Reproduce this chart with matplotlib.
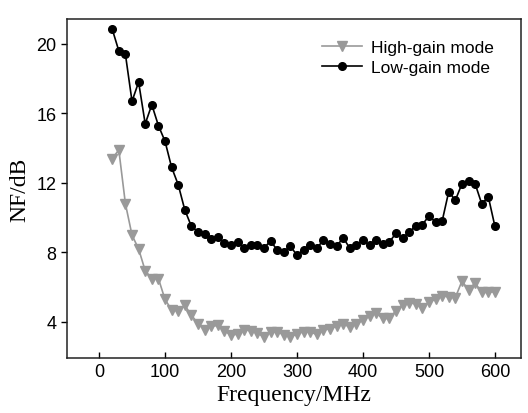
import matplotlib
matplotlib.use("Agg")
import matplotlib.pyplot as plt

# fréquences (MHz)
freq = list(range(20, 601, 10))

# mode gain élevé
high_gain = [13.4, 13.9, 10.8, 9.0, 8.2, 6.95, 6.5, 6.5, 5.3, 4.7,
             4.65, 4.95, 4.4, 3.9, 3.55, 3.75, 3.8, 3.5, 3.25, 3.3,
             3.55, 3.5, 3.35, 3.15, 3.4, 3.45, 3.25, 3.15, 3.3, 3.45,
             3.4, 3.3, 3.55, 3.6, 3.75, 3.9, 3.7, 3.9, 4.1, 4.35,
             4.5, 4.2, 4.2, 4.65, 5.0, 5.1, 5.05, 4.8, 5.15, 5.3,
             5.5, 5.45, 5.4, 6.35, 5.85, 6.25, 5.7, 5.7, 5.75]

# mode gain faible
low_gain = [20.85, 19.6, 19.4, 16.7, 17.8, 15.4, 16.5, 15.3, 14.4, 12.9,
            11.9, 10.45, 9.5, 9.2, 9.05, 8.8, 8.9, 8.55, 8.45, 8.6,
            8.25, 8.4, 8.4, 8.27, 8.65, 8.15, 8.05, 8.35, 7.85, 8.15,
            8.42, 8.25, 8.7, 8.5, 8.35, 8.85, 8.25, 8.42, 8.7, 8.42,
            8.7, 8.5, 8.6, 9.1, 8.85, 9.15, 9.55, 9.6, 10.1, 9.75,
            9.8, 11.5, 11.0, 11.95, 12.1, 11.95, 10.8, 11.2, 9.5]

plt.rcParams["font.family"] = ["Liberation Sans", "DejaVu Sans"]

fig = plt.figure(figsize=(5.28, 4.14), dpi=100)
ax = fig.add_axes([0.1263, 0.133, 0.8598, 0.819])

ax.plot(freq, high_gain, color="#999999", marker="v", markersize=6.5,
        linewidth=1.2, label="High-gain mode")
ax.plot(freq, low_gain, color="black", marker="o", markersize=5.5,
        linewidth=1.2, label="Low-gain mode")

ax.set_xlim(-49, 639)
ax.set_ylim(1.93, 21.44)
ax.set_xticks([0, 100, 200, 300, 400, 500, 600])
ax.set_yticks([4, 8, 12, 16, 20])
ax.tick_params(axis="x", direction="in", length=4, width=1, labelsize=13)
ax.tick_params(axis="y", direction="out", length=4, width=1, labelsize=13)
for s in ax.spines.values():
    s.set_linewidth(1.1)
    s.set_color("#222222")

ax.set_xlabel("Frequency/MHz", family="Liberation Serif", fontsize=17, labelpad=3)
ax.set_ylabel("NF/dB", family="Liberation Serif", fontsize=17, labelpad=4)

ax.legend(loc="upper right", bbox_to_anchor=(0.975, 0.985), frameon=False,
          fontsize=12.5, handlelength=2.3, handletextpad=0.5, labelspacing=0.3)

fig.savefig("out.png", dpi=100)
